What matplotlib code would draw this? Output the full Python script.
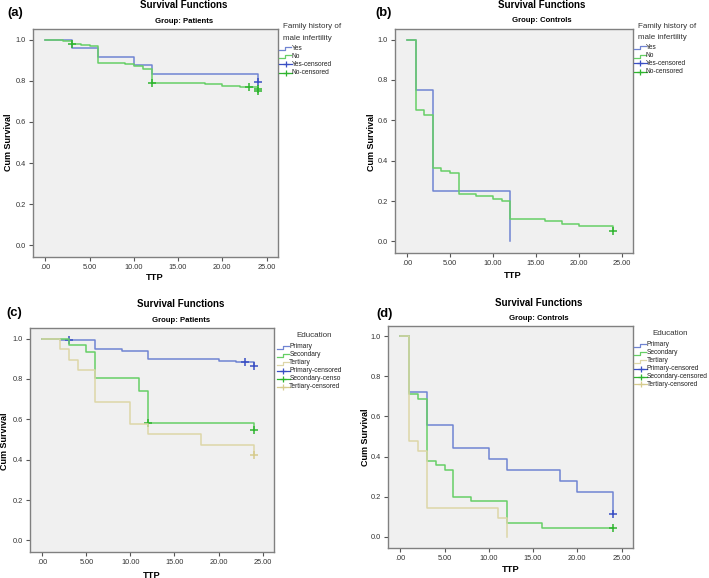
import matplotlib
matplotlib.use('Agg')
import matplotlib.pyplot as plt
from matplotlib.lines import Line2D

plt.rcParams['font.family'] = ['Liberation Sans', 'DejaVu Sans']

# ---- data (Kaplan-Meier steps) ----
xtick_vals = [0, 5, 10, 15, 20, 25]
xtick_labels = ['.00', '5.00', '10.00', '15.00', '20.00', '25.00']
ytick_vals = [0.0, 0.2, 0.4, 0.6, 0.8, 1.0]
ytick_labels = ['0.0', '0.2', '0.4', '0.6', '0.8', '1.0']

# (a) patients, family history
a_yes_t = [0, 3, 6, 10, 12, 24]
a_yes_s = [1.0, 0.958, 0.917, 0.875, 0.833, 0.792]
a_yes_cx = [24]
a_yes_cy = [0.792]
a_no_t = [0, 2, 3, 4, 5, 6, 9, 10, 11, 12, 18, 20, 22, 24]
a_no_s = [1.0, 0.995, 0.981, 0.974, 0.968, 0.888, 0.882, 0.870, 0.856, 0.791, 0.784, 0.777, 0.770, 0.752]
a_no_cx = [3, 12, 23, 24, 24]
a_no_cy = [0.981, 0.791, 0.770, 0.762, 0.752]

# (b) controls, family history
b_yes_t = [0, 1, 3, 12]
b_yes_s = [1.0, 0.75, 0.25, 0.0]
b_yes_cx = []
b_yes_cy = []
b_no_t = [0, 1, 2, 3, 4, 5, 6, 8, 10, 11, 12, 16, 18, 20, 24]
b_no_s = [1.0, 0.65, 0.625, 0.3625, 0.35, 0.3375, 0.2375, 0.225, 0.2125, 0.2, 0.1125, 0.1, 0.0875, 0.075, 0.05]
b_no_cx = [24]
b_no_cy = [0.05]

# (c) patients, education
c_pri_t = [0, 2, 6, 9, 12, 20, 22, 24]
c_pri_s = [1.0, 0.993, 0.946, 0.939, 0.898, 0.890, 0.882, 0.866]
c_pri_cx = [3, 23, 24]
c_pri_cy = [0.993, 0.882, 0.866]
c_sec_t = [0, 3, 5, 6, 11, 12, 24]
c_sec_s = [1.0, 0.968, 0.935, 0.806, 0.742, 0.580, 0.548]
c_sec_cx = [12, 24]
c_sec_cy = [0.580, 0.548]
c_ter_t = [0, 2, 3, 4, 6, 10, 12, 18, 24]
c_ter_s = [1.0, 0.947, 0.895, 0.842, 0.684, 0.579, 0.526, 0.474, 0.421]
c_ter_cx = [24]
c_ter_cy = [0.421]

# (d) controls, education
d_pri_t = [0, 1, 3, 6, 10, 12, 18, 20, 24]
d_pri_s = [1.0, 0.722, 0.556, 0.444, 0.389, 0.333, 0.278, 0.222, 0.111]
d_pri_cx = [24]
d_pri_cy = [0.111]
d_sec_t = [0, 1, 2, 3, 4, 5, 6, 8, 12, 16, 24]
d_sec_s = [1.0, 0.711, 0.689, 0.378, 0.356, 0.333, 0.2, 0.178, 0.067, 0.044, 0.044]
d_sec_cx = [24]
d_sec_cy = [0.044]
d_ter_t = [0, 1, 2, 3, 11, 12]
d_ter_s = [1.0, 0.476, 0.429, 0.143, 0.095, 0.0]
d_ter_cx = []
d_ter_cy = []

# ---- styling ----
W, H = 709, 578
BLUE = '#7084d2'
BLUE_C = '#3a4fc4'
GREEN = '#66cf66'
GREEN_C = '#2fb52f'
TAN = '#ddd6a8'
TAN_C = '#d6cb8e'
BG = '#f0f0f0'
FRAME = '#808080'


def fx(px):
    return px / W


def fy(py):
    return 1 - py / H


fig = plt.figure(figsize=(W / 100, H / 100), dpi=100)
fig.patch.set_facecolor('white')


def make_axes(l, t, r, b):
    ax = fig.add_axes([fx(l), fy(b), (r - l) / W, (b - t) / H])
    ax.set_facecolor(BG)
    ax.set_xlim(-1.4, 26.3)
    ax.set_ylim(-0.057, 1.052)
    ax.set_xticks(xtick_vals)
    ax.set_xticklabels(xtick_labels)
    ax.set_yticks(ytick_vals)
    ax.set_yticklabels(ytick_labels)
    ax.tick_params(direction='out', length=3, width=0.8, color='#555555',
                   labelsize=5.3, pad=2, labelcolor='#333333')
    for sp in ax.spines.values():
        sp.set_color(FRAME)
        sp.set_linewidth(1.0)
    return ax


def draw_curve(ax, t, s, cx, cy, color, ccolor):
    ax.step(t, s, where='post', color=color, lw=1.1)
    if cx:
        ax.plot(cx, cy, linestyle='none', marker='+', markersize=5.5,
                markeredgewidth=1.1, color=ccolor)


def headings(cx, title_y, group_y, group, letter, lx, ly):
    fig.text(fx(cx), fy(title_y), 'Survival Functions', ha='center', va='center',
             fontsize=7, fontweight='bold')
    fig.text(fx(cx), fy(group_y), group, ha='center', va='center',
             fontsize=5.6, fontweight='bold')
    fig.text(fx(lx), fy(ly), letter, ha='center', va='center',
             fontsize=9.4, fontweight='bold')


def axis_labels(ylab_x, ylab_y, ttp_x, ttp_y):
    fig.text(fx(ylab_x), fy(ylab_y), 'Cum Survival', rotation=90,
             ha='center', va='center', fontsize=6.5, fontweight='bold')
    fig.text(fx(ttp_x), fy(ttp_y), 'TTP', ha='center', va='center',
             fontsize=6.7, fontweight='bold')


def legend_entry(x0, yc, text, color, kind, tx):
    if kind == 'step':
        fig.add_artist(Line2D([fx(x0), fx(x0 + 6), fx(x0 + 6), fx(x0 + 12)],
                              [fy(yc + 2), fy(yc + 2), fy(yc - 1), fy(yc - 1)],
                              color=color, lw=0.9))
    else:
        fig.add_artist(Line2D([fx(x0), fx(x0 + 13)], [fy(yc), fy(yc)],
                              color=color, lw=0.9))
        fig.add_artist(Line2D([fx(x0 + 6.5)], [fy(yc)], marker='+',
                              markersize=5, markeredgewidth=0.9, color=color))
    fig.text(fx(tx), fy(yc), text, ha='left', va='center', fontsize=4.8,
             color='#222222')


# ---- (a) ----
ax_a = make_axes(33, 29, 278, 257)
draw_curve(ax_a, a_yes_t, a_yes_s, a_yes_cx, a_yes_cy, BLUE, BLUE_C)
draw_curve(ax_a, a_no_t, a_no_s, a_no_cx, a_no_cy, GREEN, GREEN_C)
headings(184, 5, 21.5, 'Group: Patients', '(a)', 15, 13)
axis_labels(9, 142.7, 155, 278)
fig.text(fx(283), fy(27), 'Family history of', ha='left', va='center', fontsize=5.8, color='#333333')
fig.text(fx(283), fy(38), 'male infertility', ha='left', va='center', fontsize=5.8, color='#333333')
legend_entry(279, 48.3, 'Yes', BLUE, 'step', 292)
legend_entry(279, 56.3, 'No', GREEN, 'step', 292)
legend_entry(279, 64.3, 'Yes-censored', BLUE_C, 'cens', 292)
legend_entry(279, 72.5, 'No-censored', GREEN_C, 'cens', 292)

# ---- (b) ----
ax_b = make_axes(395, 29, 633, 253)
draw_curve(ax_b, b_yes_t, b_yes_s, b_yes_cx, b_yes_cy, BLUE, BLUE_C)
draw_curve(ax_b, b_no_t, b_no_s, b_no_cx, b_no_cy, GREEN, GREEN_C)
headings(541.5, 5, 21, 'Group: Controls', '(b)', 383.5, 13)
axis_labels(371, 142.7, 513, 276)
fig.text(fx(637.5), fy(26.7), 'Family history of', ha='left', va='center', fontsize=5.8, color='#333333')
fig.text(fx(637.5), fy(37.7), 'male infertility', ha='left', va='center', fontsize=5.8, color='#333333')
legend_entry(633.5, 47.3, 'Yes', BLUE, 'step', 646)
legend_entry(633.5, 55.5, 'No', GREEN, 'step', 646)
legend_entry(633.5, 63.3, 'Yes-censored', BLUE_C, 'cens', 646)
legend_entry(633.5, 71.7, 'No-censored', GREEN_C, 'cens', 646)

# ---- (c) ----
ax_c = make_axes(30, 328, 274, 552)
draw_curve(ax_c, c_pri_t, c_pri_s, c_pri_cx, c_pri_cy, BLUE, BLUE_C)
draw_curve(ax_c, c_sec_t, c_sec_s, c_sec_cx, c_sec_cy, GREEN, GREEN_C)
draw_curve(ax_c, c_ter_t, c_ter_s, c_ter_cx, c_ter_cy, TAN, TAN_C)
headings(181, 304, 320.7, 'Group: Patients', '(c)', 14.5, 313)
axis_labels(5, 441.7, 152, 575)
fig.text(fx(314), fy(335.7), 'Education', ha='center', va='center', fontsize=5.8, color='#333333')
legend_entry(276.5, 346.7, 'Primary', BLUE, 'step', 289.3)
legend_entry(276.5, 354.7, 'Secondary', GREEN, 'step', 289.3)
legend_entry(276.5, 362.7, 'Tertiary', TAN, 'step', 289.3)
legend_entry(276.5, 371, 'Primary-censored', BLUE_C, 'cens', 289.3)
legend_entry(276.5, 379, 'Secondary-censo', GREEN_C, 'cens', 289.3)
legend_entry(276.5, 386.7, 'Tertiary-censored', TAN_C, 'cens', 289.3)

# ---- (d) ----
ax_d = make_axes(388, 326, 633, 548)
draw_curve(ax_d, d_pri_t, d_pri_s, d_pri_cx, d_pri_cy, BLUE, BLUE_C)
draw_curve(ax_d, d_sec_t, d_sec_s, d_sec_cx, d_sec_cy, GREEN, GREEN_C)
draw_curve(ax_d, d_ter_t, d_ter_s, d_ter_cx, d_ter_cy, TAN, TAN_C)
headings(539, 303, 319, 'Group: Controls', '(d)', 385, 314)
axis_labels(365, 437.5, 511, 569)
fig.text(fx(670), fy(333.3), 'Education', ha='center', va='center', fontsize=5.8, color='#333333')
legend_entry(634.3, 345, 'Primary', BLUE, 'step', 646.7)
legend_entry(634.3, 353, 'Secondary', GREEN, 'step', 646.7)
legend_entry(634.3, 360.7, 'Tertiary', TAN, 'step', 646.7)
legend_entry(634.3, 369, 'Primary-censored', BLUE_C, 'cens', 646.7)
legend_entry(634.3, 377, 'Secondary-censored', GREEN_C, 'cens', 646.7)
legend_entry(634.3, 384.3, 'Tertiary-censored', TAN_C, 'cens', 646.7)

fig.savefig('out.png', dpi=100, facecolor='white')
